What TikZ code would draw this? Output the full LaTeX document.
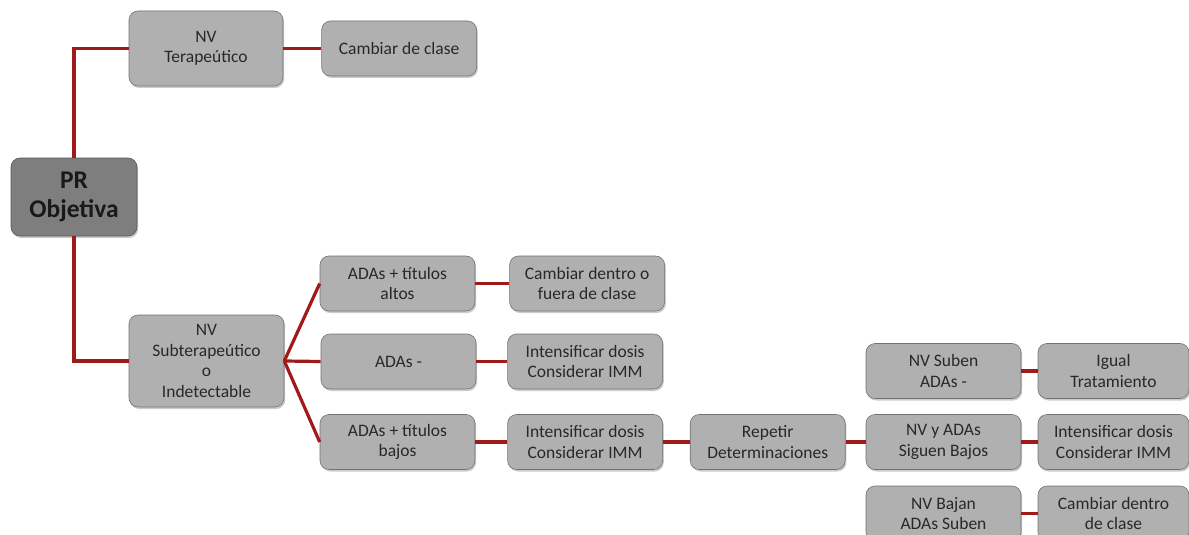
\documentclass[tikz,border=0pt]{standalone}
\usepackage{fontspec}
\setmainfont{Carlito}
\usetikzlibrary{positioning,shadows}
\definecolor{boxgray}{RGB}{176,176,176}
\definecolor{prgray}{RGB}{126,126,126}
\definecolor{txtgray}{RGB}{40,40,40}
\definecolor{linkred}{RGB}{160,26,26}
\tikzset{
  paso/.style={draw=boxgray!65!black, line width=0.6pt, fill=boxgray, rounded corners=9pt,
    minimum width=155pt, minimum height=55pt, inner sep=2pt, align=center,
    text=txtgray, font=\fontsize{17.5}{20.5}\selectfont,
    drop shadow={shadow xshift=1.2pt, shadow yshift=-2pt, opacity=0.4}},
  raiz/.style={paso, fill=prgray, draw=prgray!70!black, minimum width=126pt, minimum height=78pt,
    text=black!90, font=\fontsize{25.5}{29.5}\selectfont\bfseries},
  enlace/.style={draw=linkred, line width=3.2pt}
}
\begin{document}
\begin{tikzpicture}[x=1pt, y=-1pt]
\clip (0,0) rectangle (1189,535);
% raiz y primer nivel
\node[raiz] (pr) at (74,197) {PR\\Objetiva};
\node[paso, minimum width=154pt, minimum height=75pt] (nvt) at (206,48.5) {NV\\Terapeútico};
\node[paso, right=38pt of nvt] (cdc) {Cambiar de clase};
\node[paso, minimum height=92pt] (nvs) at (206.5,361) {NV\\Subterapeútico\\o\\Indetectable};
% segundo nivel
\node[paso] (alt) at (397.5,283.5) {ADAs + títulos\\altos};
\node[paso] (neg) at (398.5,361.5) {ADAs -};
\node[paso] (baj) at (397.5,442) {ADAs + títulos\\bajos};
\node[paso, right=34pt of alt] (cfc) {Cambiar dentro o\\fuera de clase};
\node[paso, right=31pt of neg] (int1) {Intensificar dosis\\Considerar IMM};
\node[paso, right=32pt of baj] (int2) {Intensificar dosis\\Considerar IMM};
\node[paso, right=27pt of int2] (rep) {Repetir\\Determinaciones};
% tercer nivel
\node[paso] (sub) at (943.5,371) {NV Suben\\ADAs -};
\node[paso] (sig) at (943.5,442) {NV y ADAs\\Siguen Bajos};
\node[paso] (bajan) at (943.5,513.5) {NV Bajan\\ADAs Suben};
\node[paso, minimum width=151pt] (igu) at (1113.5,371) {Igual\\Tratamiento};
\node[paso, minimum width=151pt] (int3) at (1113.5,442) {Intensificar dosis\\Considerar IMM};
\node[paso, minimum width=151pt] (cdc2) at (1113.5,513.5) {Cambiar dentro\\de clase};
% conectores
\draw[enlace] (pr.north) |- (nvt.west);
\draw[enlace] (pr.south) |- (nvs.west);
\draw[enlace] (nvt) -- (cdc);
\draw[enlace] (nvs.east) -- (alt.west);
\draw[enlace] (nvs.east) -- (neg.west);
\draw[enlace] (nvs.east) -- (baj.west);
\draw[enlace] (alt) -- (cfc);
\draw[enlace] (neg) -- (int1);
\draw[enlace] (baj) -- (int2);
\draw[enlace] (int2) -- (rep);
\draw[enlace] (rep) -- (sig);
\draw[enlace] (sub) -- (igu);
\draw[enlace] (sig) -- (int3);
\draw[enlace] (bajan) -- (cdc2);
\end{tikzpicture}
\end{document}
